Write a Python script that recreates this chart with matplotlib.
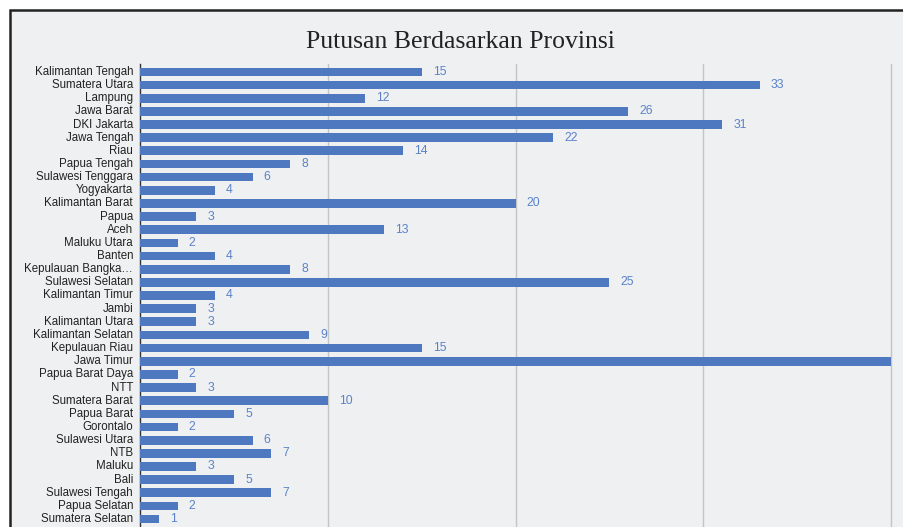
import matplotlib.pyplot as plt
from matplotlib.patches import Rectangle

provinces = ["Kalimantan Tengah", "Sumatera Utara", "Lampung", "Jawa Barat", "DKI Jakarta",
             "Jawa Tengah", "Riau", "Papua Tengah", "Sulawesi Tenggara", "Yogyakarta",
             "Kalimantan Barat", "Papua", "Aceh", "Maluku Utara", "Banten",
             "Kepulauan Bangka…", "Sulawesi Selatan", "Kalimantan Timur", "Jambi", "Kalimantan Utara",
             "Kalimantan Selatan", "Kepulauan Riau", "Jawa Timur", "Papua Barat Daya", "NTT",
             "Sumatera Barat", "Papua Barat", "Gorontalo", "Sulawesi Utara", "NTB",
             "Maluku", "Bali", "Sulawesi Tengah", "Papua Selatan", "Sumatera Selatan"]
putusan = [15, 33, 12, 26, 31, 22, 14, 8, 6, 4,
           20, 3, 13, 2, 4, 8, 25, 4, 3, 3,
           9, 15, 40, 2, 3, 10, 5, 2, 6, 7,
           3, 5, 7, 2, 1]
grid_ticks = [10, 20, 30, 40]

W, H = 904, 527
bg = '#eef0f2'
bar_color = '#4e79c1'
label_color = '#5b82c8'

fig = plt.figure(figsize=(W / 100, H / 100), dpi=100)
fig.patch.set_facecolor('white')

# card background with dark border (cropped at right/bottom)
card = Rectangle((10 / W, -0.05), 1.2, 1 - 10 / H + 0.05, transform=fig.transFigure,
                 facecolor=bg, edgecolor='#222222', linewidth=1.8, zorder=-5)
fig.patches.append(card)

ax = fig.add_axes([140 / W, 0, (W - 140) / W, (H - 64) / H])
ax.set_zorder(2)
ax.patch.set_alpha(0)

y = list(range(len(provinces)))
ax.barh(y, putusan, height=0.66, color=bar_color, zorder=3)
for yi, v in zip(y, putusan):
    ax.annotate(str(v), (v, yi), xytext=(8, 0), textcoords='offset points',
                va='center', ha='left', fontsize=8.8, color=label_color,
                fontfamily='Liberation Sans', zorder=4, annotation_clip=False)

ax.set_xlim(0, (W - 140) / 18.78)
ax.set_ylim(34.6, -0.6)
ax.set_yticks(y)
ax.set_yticklabels(provinces, fontsize=8.3, fontfamily='Liberation Sans', color='#222222',
                   va='center')
ax.set_xticks(grid_ticks)
ax.xaxis.grid(True, color='#c4c4c4', linewidth=1.0, zorder=0)
ax.set_axisbelow(True)
ax.tick_params(axis='y', length=0, pad=5)
ax.tick_params(axis='x', length=0, labelbottom=False)
for s in ['top', 'right', 'bottom']:
    ax.spines[s].set_visible(False)
ax.spines['left'].set_color('#333333')
ax.spines['left'].set_linewidth(1.0)

fig.text(460 / W, 1 - 42 / H, 'Putusan Berdasarkan Provinsi', ha='center', va='center',
         fontsize=18.5, fontfamily='Liberation Serif', color='#222222')

fig.savefig('out.png', dpi=100, facecolor=fig.get_facecolor())
